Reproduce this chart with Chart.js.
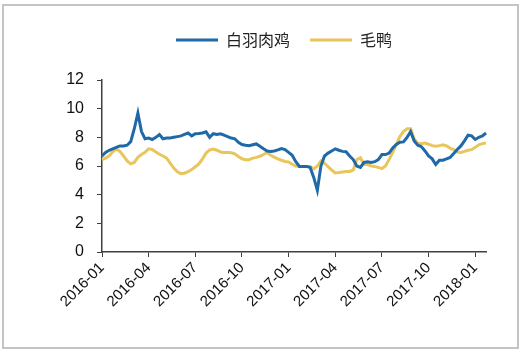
<!DOCTYPE html>
<html>
<head>
<meta charset="utf-8">
<script src="https://cdn.jsdelivr.net/npm/chart.js@4.4.0/dist/chart.umd.min.js"></script>
<style>
  html, body { margin: 0; padding: 0; background: #fff; }
  #wrap { position: relative; width: 522px; height: 352px; }
  #frame {
    position: absolute; left: 2px; top: 4px; width: 517px; height: 345px;
    box-sizing: border-box; border: 2px solid #c4c4c4; pointer-events: none;
  }
</style>
</head>
<body>
<div id="wrap">
  <canvas id="lineChart" width="522" height="352"></canvas>
  <div id="frame"></div>
</div>
<script>
// quarterly tick labels, one every 13 weekly points
var TICKS = ['2016-01', '2016-04', '2016-07', '2016-10', '2017-01', '2017-04', '2017-07', '2017-10', '2018-01'];
var WEEKS_PER_TICK = 13;

// 白羽肉鸡 (weekly)
var broiler = [
    6.7, 6.95, 7.1, 7.2, 7.3, 7.4, 7.4, 7.45, 7.7, 8.6,
    9.7, 8.4, 7.9, 7.95, 7.85, 8.0, 8.2, 7.9, 7.95, 7.95,
    8.0, 8.05, 8.1, 8.2, 8.3, 8.1, 8.25, 8.27, 8.3, 8.38,
    8.0, 8.25, 8.2, 8.25, 8.15, 8.05, 7.95, 7.9, 7.65, 7.5,
    7.45, 7.42, 7.48, 7.54, 7.38, 7.2, 7.05, 7.02, 7.05, 7.12,
    7.22, 7.15, 6.95, 6.75, 6.3, 5.97, 5.97, 5.97, 5.9, 5.2,
    4.3, 6.0, 6.7, 6.9, 7.05, 7.2, 7.1, 7.02, 7.0, 6.7,
    6.45, 6.0, 5.9, 6.25, 6.3, 6.25, 6.3, 6.45, 6.8, 6.8,
    6.9, 7.25, 7.5, 7.66, 7.68, 8.0, 8.4, 7.75, 7.45, 7.35,
    7.05, 6.7, 6.5, 6.1, 6.4, 6.4, 6.5, 6.6, 6.88, 7.15,
    7.4, 7.75, 8.15, 8.1, 7.85, 8.0, 8.1, 8.3
];

// 毛鸭 (weekly)
var duck = [
    6.45, 6.55, 6.7, 7.0, 7.18, 7.02, 6.7, 6.35, 6.15, 6.25,
    6.6, 6.8, 6.95, 7.2, 7.15, 6.98, 6.82, 6.7, 6.55, 6.2,
    5.85, 5.6, 5.47, 5.5, 5.6, 5.75, 5.95, 6.15, 6.5, 6.9,
    7.12, 7.18, 7.1, 6.98, 6.95, 6.95, 6.92, 6.85, 6.67, 6.5,
    6.44, 6.44, 6.55, 6.6, 6.68, 6.8, 6.95, 6.75, 6.62, 6.5,
    6.4, 6.32, 6.28, 6.12, 6.0, 5.97, 5.97, 5.97, 5.97, 5.8,
    6.0, 6.35, 6.2, 5.95, 5.72, 5.52, 5.54, 5.58, 5.62, 5.62,
    5.72, 6.45, 6.58, 6.1, 6.1, 6.0, 5.97, 5.9, 5.82, 6.0,
    6.45, 6.95, 7.5, 8.05, 8.4, 8.6, 8.6, 7.9, 7.58, 7.56,
    7.6, 7.52, 7.42, 7.38, 7.42, 7.48, 7.4, 7.25, 7.15, 6.97,
    6.95, 7.02, 7.1, 7.14, 7.3, 7.48, 7.56, 7.6
];

var categories = broiler.map(function (v, i) {
    return i % WEEKS_PER_TICK === 0 ? TICKS[i / WEEKS_PER_TICK] : '';
});

var FONT = "'Liberation Sans', Arial, sans-serif";
var AXIS = '#404040';

// extra room under the legend, and nudge it a bit to the left
var legendTweak = {
    id: 'legendTweak',
    beforeInit: function (chart) {
        var fit = chart.legend.fit;
        chart.legend.fit = function () {
            fit.bind(chart.legend)();
            this.height = 68;
        };
    },
    afterLayout: function (chart) {
        chart.legend.left -= 10;
        chart.legend.right -= 10;
    }
};

var ctx = document.getElementById('lineChart').getContext('2d');
window.myLine = new Chart(ctx, {
    type: 'line',
    data: {
        labels: categories,
        datasets: [{
                label: '白羽肉鸡',
                data: broiler,
                borderColor: '#1f69a8',
                backgroundColor: '#1f69a8',
                borderWidth: 3,
                pointRadius: 0,
                tension: 0
            },
            {
                label: '毛鸭',
                data: duck,
                borderColor: '#e8c65c',
                backgroundColor: '#e8c65c',
                borderWidth: 3,
                pointRadius: 0,
                tension: 0
            }
        ]
    },
    options: {
        responsive: false,
        animation: false,
        layout: {
            padding: { left: 0, right: 36, top: 12, bottom: 0 }
        },
        plugins: {
            tooltip: { enabled: false },
            legend: {
                position: 'top',
                fullSize: false,
                labels: {
                    boxWidth: 42,
                    boxHeight: 3,
                    padding: 20,
                    color: '#222',
                    font: { family: "'Noto Sans CJK SC', sans-serif", size: 16 },
                    generateLabels: function (chart) {
                        return Chart.defaults.plugins.legend.labels.generateLabels(chart).map(function (l) {
                            l.lineWidth = 0;
                            return l;
                        });
                    }
                }
            }
        },
        scales: {
            x: {
                border: { display: true, color: AXIS, width: 1.5 },
                grid: { drawOnChartArea: false, drawTicks: true, tickLength: 5, color: AXIS },
                afterFit: function (scale) { scale.height = 100; },
                ticks: {
                    autoSkip: false,
                    minRotation: 45,
                    maxRotation: 45,
                    padding: 2,
                    color: '#111',
                    font: { family: FONT, size: 15 },
                    callback: function (v) {
                        var l = this.getLabelForValue(v);
                        return l === '' ? null : l;
                    }
                }
            },
            y: {
                min: 0,
                max: 12,
                border: { display: true, color: AXIS, width: 1.5 },
                grid: { drawOnChartArea: false, drawTicks: true, tickLength: 5, color: AXIS },
                afterFit: function (scale) { scale.width = 102; },
                ticks: {
                    stepSize: 2,
                    padding: 13,
                    color: '#111',
                    font: { family: FONT, size: 16 }
                }
            }
        }
    },
    plugins: [legendTweak]
});
</script>
</body>
</html>
